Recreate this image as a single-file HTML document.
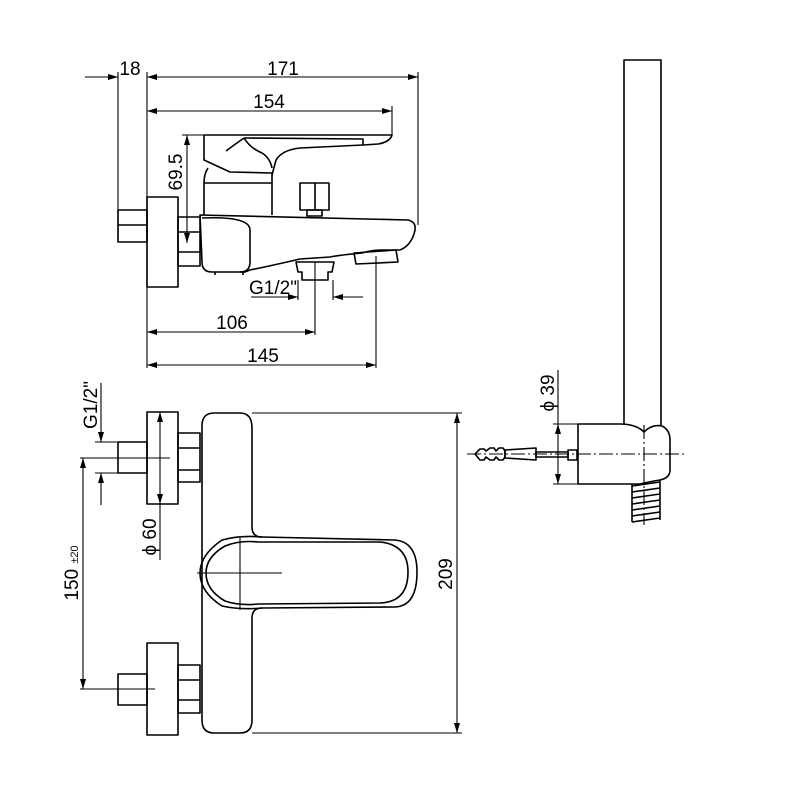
<!DOCTYPE html>
<html><head><meta charset="utf-8"><style>
html,body{margin:0;padding:0;background:#fff;}
svg{display:block}
text{font-family:"Liberation Sans Narrow","Liberation Sans",sans-serif;font-size:19px;fill:#000}
</style></head><body>
<svg width="800" height="800" viewBox="0 0 800 800" xmlns="http://www.w3.org/2000/svg">
<defs>
<marker id="a" viewBox="0 0 10 6" refX="10" refY="3" markerWidth="10" markerHeight="6" orient="auto-start-reverse" markerUnits="userSpaceOnUse"><path d="M0,0 L10,3 L0,6 z" fill="#000"/></marker>
</defs>
<g fill="none" stroke="#000" stroke-width="1.1">
<line x1="85" y1="77" x2="118" y2="77" marker-end="url(#a)"/>
<line x1="147" y1="77" x2="418" y2="77" marker-start="url(#a)" marker-end="url(#a)"/>
<line x1="118" y1="72" x2="118" y2="242"/>
<line x1="147" y1="72" x2="147" y2="368"/>
<line x1="418" y1="72" x2="418" y2="225"/>
<line x1="147" y1="111" x2="392" y2="111" marker-start="url(#a)" marker-end="url(#a)"/>
<line x1="392" y1="106" x2="392" y2="135"/>
<line x1="182" y1="135" x2="205" y2="135"/>
<line x1="187" y1="135" x2="187" y2="243" marker-start="url(#a)" marker-end="url(#a)"/>
<line x1="251" y1="297" x2="298" y2="297" marker-end="url(#a)"/>
<line x1="333" y1="297" x2="363" y2="297" marker-start="url(#a)"/>
<line x1="298" y1="280" x2="298" y2="300"/>
<line x1="333" y1="280" x2="333" y2="300"/>
<line x1="147" y1="332" x2="315" y2="332" marker-start="url(#a)" marker-end="url(#a)"/>
<line x1="315" y1="262" x2="315" y2="335"/>
<line x1="147" y1="365" x2="376" y2="365" marker-start="url(#a)" marker-end="url(#a)"/>
<line x1="376" y1="256" x2="376" y2="368"/>
</g>
<g fill="none" stroke="#000" stroke-width="1.6" stroke-linejoin="round">
<rect x="118" y="210" width="29" height="32"/>
<line x1="118" y1="225" x2="147" y2="225"/>
<rect x="147" y="197" width="31" height="90"/>
<rect x="178" y="217" width="22" height="49"/>
<line x1="178" y1="232" x2="200" y2="232"/>
<line x1="178" y1="252" x2="200" y2="252"/>
<!-- handle -->
<path d="M204,135 L392,135 Q390,142 378,144 L363,145 L300,148 Q282,150 276,160 L272,175"/>
<path d="M244,138 L363,139 L363,145"/>
<path d="M244,138 Q250,148 262,153 Q270,158 272,168"/>
<path d="M226,151 Q234,145 244,138"/>
<path d="M204,135 L204,160 L230,172 L272,173 L272,183"/>
<path d="M208,168 Q204,174 204,183 L204,215"/>
<line x1="204" y1="183" x2="272" y2="183"/>
<line x1="272" y1="183" x2="272" y2="215"/>
<!-- body -->
<path d="M200,215 L408,220 Q418,222 414,234 Q410,246 400,250 L380,250 Q372,250 362,253 Q340,255 330,257 L300,259 Q270,266 250,270 L245,272 L212,272 Q202,272 202,262 Z"/>
<path d="M202,218 Q250,216 250,230 L250,262 Q250,272 240,272"/>
<line x1="215" y1="272" x2="215" y2="275"/><line x1="243" y1="272" x2="243" y2="275"/>
<rect x="300" y="183" width="29" height="27"/>
<line x1="315" y1="183" x2="315" y2="210"/>
<rect x="307" y="210" width="15" height="6"/>
<path d="M296,262 L334,262 L332,272 L328,272 L328,280 L302,280 L302,272 L298,272 Z"/>
<path d="M354,253 L396,250 L398,262 L356,264 Z"/>

<!-- FRONT VIEW -->
<path d="M214,413 L240,413 Q252,413 252,428 L252,527 Q252,537 262,537 L395,540 Q417,542 417,572 Q417,606 395,607 L262,608 Q252,608 252,618 L252,720 Q252,733 240,733 L214,733 Q202,733 202,720 L202,426 Q202,413 214,413 Z"/>
<path d="M262,537 Q240,535 222,540 Q200,555 200,573 Q200,592 222,606 Q240,610 262,608"/>
<path d="M258,542 Q240,540 225,546 Q206,557 206,573 Q206,590 225,601 Q240,606 258,604 L380,603 Q408,602 408,572 Q408,545 380,542 Z"/>
<rect x="147" y="412" width="31" height="92"/>
<rect x="118" y="442" width="29" height="31"/>
<rect x="178" y="433" width="22" height="49"/>
<line x1="178" y1="448" x2="200" y2="448"/><line x1="178" y1="470" x2="200" y2="470"/>
<rect x="147" y="643" width="31" height="92"/>
<rect x="118" y="674" width="29" height="31"/>
<rect x="178" y="665" width="22" height="48"/>
<line x1="178" y1="680" x2="200" y2="680"/><line x1="178" y1="700" x2="200" y2="700"/>

<!-- hand shower -->
<path d="M624,425 L624,60 L661,60 L661,425"/>
<path d="M578,424 L620,424 Q636,424 644,432 Q652,424 662,426 Q670,430 670,440 L670,470 Q670,478 660,480 Q648,482 640,484 L578,484 Z"/>
<path d="M475,454 L480,449 L484,449 L486,451 L490,448 L494,448 L496,451 L499,448 L503,448 L505,451 L505,457 L503,460 L499,460 L496,457 L494,460 L490,460 L486,457 L484,460 L480,460 Z"/>
<path d="M505,450 L536,448 L536,460 L505,458 Z"/>
<rect x="536" y="452" width="32" height="5"/>
<rect x="568" y="450" width="9" height="10"/>
<path d="M632,486 L660,482 M632,492 L660,488 M632,498 L660,494 M632,504 L660,500 M632,510 L660,506 M632,516 L660,512 M632,522 L660,518"/>
<line x1="632" y1="484" x2="632" y2="522"/><line x1="660" y1="480" x2="660" y2="520"/>
</g>
<g fill="none" stroke="#000" stroke-width="1.1">
<line x1="80" y1="458" x2="170" y2="458"/>
<line x1="80" y1="689" x2="155" y2="689"/>
<line x1="83" y1="458" x2="83" y2="689" marker-start="url(#a)" marker-end="url(#a)"/>
<line x1="101" y1="383" x2="101" y2="442" marker-end="url(#a)"/>
<line x1="101" y1="473" x2="101" y2="505" marker-start="url(#a)"/>
<line x1="95" y1="442" x2="118" y2="442"/><line x1="95" y1="473" x2="118" y2="473"/>
<line x1="160" y1="412" x2="160" y2="504" marker-start="url(#a)" marker-end="url(#a)"/>
<line x1="160" y1="504" x2="160" y2="560"/>
<line x1="252" y1="413" x2="462" y2="413"/>
<line x1="252" y1="733" x2="462" y2="733"/>
<line x1="457" y1="413" x2="457" y2="733" marker-start="url(#a)" marker-end="url(#a)"/>
<line x1="197" y1="573" x2="282" y2="573"/>
<line x1="240" y1="538" x2="240" y2="610"/>
<line x1="558" y1="370" x2="558" y2="424"/>
<line x1="558" y1="424" x2="558" y2="484" marker-start="url(#a)" marker-end="url(#a)"/>
<line x1="553" y1="424" x2="578" y2="424"/><line x1="553" y1="484" x2="578" y2="484"/>
<line x1="467" y1="454" x2="685" y2="454" stroke-dasharray="14,3,2,3"/>
<line x1="644" y1="425" x2="644" y2="525" stroke-dasharray="14,3,2,3"/>
</g>
<text x="130" y="75" text-anchor="middle">18</text>
<text x="283" y="75" text-anchor="middle">171</text>
<text x="269" y="108" text-anchor="middle">154</text>
<text transform="translate(182,172) rotate(-90)" text-anchor="middle">69.5</text>
<text x="273" y="294" text-anchor="middle">G1/2"</text>
<text x="232" y="329" text-anchor="middle">106</text>
<text x="263" y="362" text-anchor="middle">145</text>
<text transform="translate(97,405) rotate(-90)" text-anchor="middle">G1/2"</text>
<text transform="translate(156,537) rotate(-90)" text-anchor="middle">ϕ 60</text>
<text transform="translate(78,573) rotate(-90)" text-anchor="middle">150 <tspan font-size="11">±20</tspan></text>
<text transform="translate(452,574) rotate(-90)" text-anchor="middle">209</text>
<text transform="translate(554,393) rotate(-90)" text-anchor="middle">ϕ 39</text>
</svg>
</body></html>
